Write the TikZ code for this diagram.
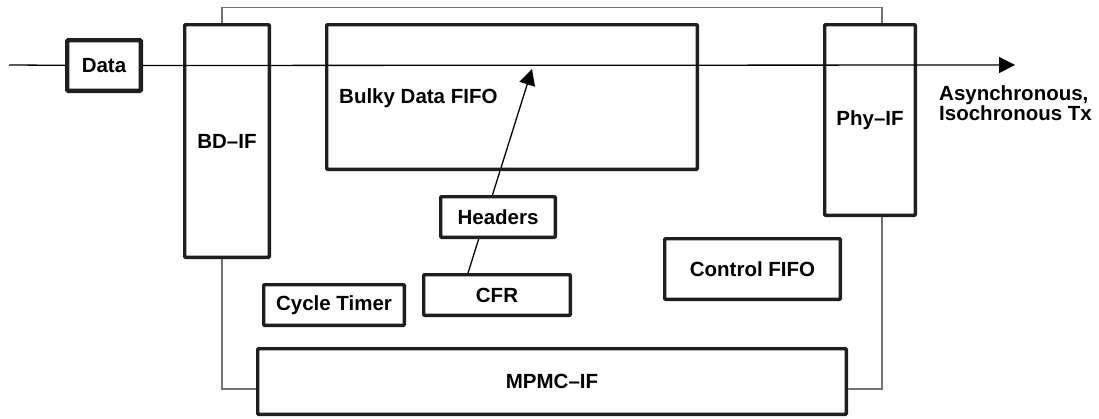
\documentclass[tikz,border=0pt]{standalone}
\usepackage{fontspec}
\setmainfont{Liberation Sans}
\usetikzlibrary{arrows.meta,calc}
\pgfdeclarelayer{bg}
\pgfsetlayers{bg,main}
\begin{document}
\begin{tikzpicture}[x=1pt,y=-1pt,
  lbl/.style={font=\bfseries\fontsize{20.5}{20}\selectfont, inner sep=0pt},
  blk/.style={lbl, draw=black!88, line width=3.3pt, rounded corners=1pt},
  wire/.style={draw=black!55, line width=1.2pt},
  sig/.style={draw=black, line width=1.3pt},
  arr/.style={sig, -{Triangle[length=16pt,width=16pt]}}
]
\useasboundingbox (0,0) rectangle (1099,418);

% blocks
\node[blk, fill=white, line width=4.4pt, minimum width=73.6pt, minimum height=50.6pt] (data) at (104,65.5) {Data};
\node[blk, minimum width=84.7pt, minimum height=232.7pt] (bdif) at (227,141) {BD–IF};
\node[blk, minimum width=370.7pt, minimum height=144.7pt] (bulky) at (512,97) {};
\node[lbl, anchor=base west] (bulkyt) at (339,103) {Bulky Data FIFO};
\node[blk, minimum width=90.7pt, minimum height=190.7pt] (phyif) at (870,120) {Phy–IF};
\node[blk, fill=white, minimum width=114.7pt, minimum height=40.7pt] (headers) at (498,217) {Headers};
\node[blk, minimum width=146.7pt, minimum height=40.7pt] (cfr) at (497,295) {CFR};
\node[blk, minimum width=140.7pt, minimum height=40.7pt] (cycle) at (334,305) {Cycle Timer};
\node[blk, minimum width=175.7pt, minimum height=60.7pt] (control) at (752.5,269) {Control FIFO};
\node[blk, minimum width=588.7pt, minimum height=65.7pt] (mpmc) at (552,381.5) {MPMC–IF};

\node[lbl, anchor=north west, align=left] (tx) at (939,85.5) {Asynchronous,\\Isochronous Tx};

% coordinates
\coordinate (in) at (9,65);
\coordinate (out) at (1015,65);
\coordinate (tip) at (532,69);
\coordinate (cx) at (468,0);
\coordinate (wl) at (222,0);
\coordinate (wr) at (882,0);
\coordinate (wt) at (0,7.5);
\coordinate (wb) at (0,389);

% main data path
\draw[sig] (in) -- (data);
\draw[arr] (data) -- (out);

% header arrow (behind Headers box)
\begin{pgfonlayer}{bg}
\draw[arr] (cfr.north -| cx) -- (tip);
\end{pgfonlayer}

% control wires
\draw[wire] (bdif.north -| wl) |- (wt -| wr) -- (phyif.north -| wr);
\draw[wire] (bdif.south -| wl) |- (mpmc.west |- wb);
\draw[wire] (phyif.south -| wr) |- (mpmc.east |- wb);
\end{tikzpicture}
\end{document}
